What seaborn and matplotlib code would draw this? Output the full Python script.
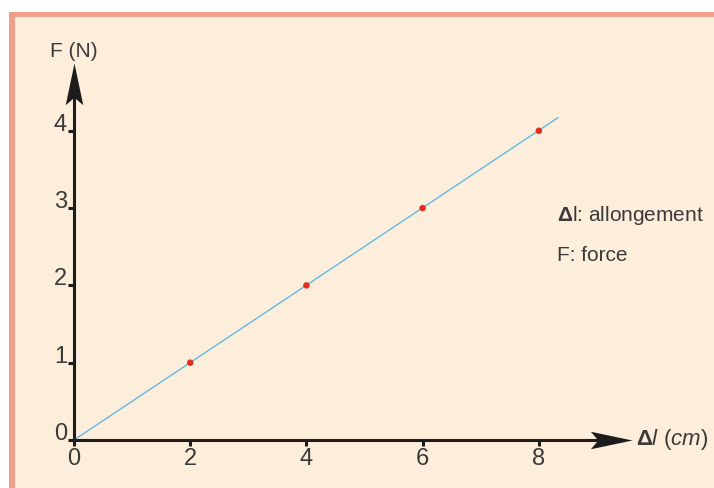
import matplotlib
matplotlib.use("Agg")
import matplotlib.pyplot as plt
import seaborn as sns
from matplotlib.patches import Rectangle
from matplotlib.path import Path

# values
elong = [2, 4, 6, 8]        # delta l (cm)
force = [1, 2, 3, 4]        # F (N)
fit_x = [0, 8.33]
fit_y = [0, 4.17]
x_ticks = [0, 2, 4, 6, 8]
y_ticks = [0, 1, 2, 3, 4]
x_end = 9.604               # where the axis arrows stop
y_end = 4.877

sns.set_style("white")
plt.rcParams['font.family'] = ['Liberation Sans', 'DejaVu Sans']
plt.rcParams['mathtext.fontset'] = 'custom'
plt.rcParams['mathtext.rm'] = 'Liberation Sans'
plt.rcParams['mathtext.it'] = 'Liberation Sans:italic'
plt.rcParams['mathtext.bf'] = 'Liberation Sans:bold'

ink = '#1c1c1c'
txt = '#3a3a3a'
beige = '#FDEDDB'
salmon = '#F0A08A'

fig = plt.figure(figsize=(7.14, 4.88), dpi=100)
fig.patch.set_facecolor('white')
# frame: beige panel with salmon band on top and left
fig.add_artist(Rectangle((0.15, 0), 7.0, 4.71, transform=fig.dpi_scale_trans,
                         facecolor=beige, edgecolor='none', zorder=-5))
fig.add_artist(Rectangle((0.09, 4.71), 7.1, 0.05, transform=fig.dpi_scale_trans,
                         facecolor=salmon, edgecolor='none', zorder=-4))
fig.add_artist(Rectangle((0.09, 0), 0.06, 4.76, transform=fig.dpi_scale_trans,
                         facecolor=salmon, edgecolor='none', zorder=-4))

ax = fig.add_axes([0, 0, 1, 1])
ax.patch.set_visible(False)

sns.lineplot(x=fit_x, y=fit_y, color='#62B8E2', lw=1, ax=ax)
sns.scatterplot(x=elong, y=force, color='#E03020', s=22, edgecolor='none', zorder=3, ax=ax)

ax.set_xlim(-1.274, 11.015)
ax.set_ylim(-0.621, 5.692)

for s in ['top', 'right']:
    ax.spines[s].set_visible(False)
ax.spines['left'].set_position(('data', 0))
ax.spines['bottom'].set_position(('data', 0))
ax.spines['left'].set_bounds(0, y_end - 0.3)
ax.spines['bottom'].set_bounds(0, x_end - 0.4)
for s in ['left', 'bottom']:
    ax.spines[s].set_color(ink)
    ax.spines[s].set_linewidth(2.2)
    ax.spines[s].set_capstyle('butt')

ax.set_xticks(x_ticks, [str(v) for v in x_ticks])
ax.set_yticks(y_ticks, [str(v) for v in y_ticks], va='baseline')
ax.tick_params(axis='x', bottom=True, direction='out', length=4.5, width=2.2, color=ink,
               pad=1, labelsize=17, labelcolor=txt)
ax.tick_params(axis='y', left=True, direction='out', length=4, width=2.2, color=ink,
               pad=1, labelsize=17, labelcolor=txt)

# swept-back arrow heads, tip at the marker origin
head_right = Path([(0, 0), (-1, 0.21), (-0.82, 0), (-1, -0.21), (0, 0)],
                  [Path.MOVETO, Path.LINETO, Path.LINETO, Path.LINETO, Path.CLOSEPOLY])
head_up = Path([(0, 0), (0.21, -1), (0, -0.82), (-0.21, -1), (0, 0)],
               [Path.MOVETO, Path.LINETO, Path.LINETO, Path.LINETO, Path.CLOSEPOLY])
ax.plot([x_end], [0], marker=head_right, ms=60, color=ink, mec='none', zorder=4)
ax.plot([0], [y_end], marker=head_up, ms=60, color=ink, mec='none', zorder=4)

ax.text(0, 5.02, 'F (N)', ha='center', va='center', fontsize=15, color=txt)
ax.text(9.67, 0, r'$\mathbf{\Delta}\mathit{l\ (cm)}$', ha='left', va='center',
        fontsize=16, color=txt)
ax.text(8.31, 2.90, r'$\mathbf{\Delta}$l: allongement', ha='left', va='center',
        fontsize=15, color=txt)
ax.text(8.31, 2.39, 'F: force', ha='left', va='center', fontsize=15, color=txt)

fig.savefig('out.png', dpi=100)
